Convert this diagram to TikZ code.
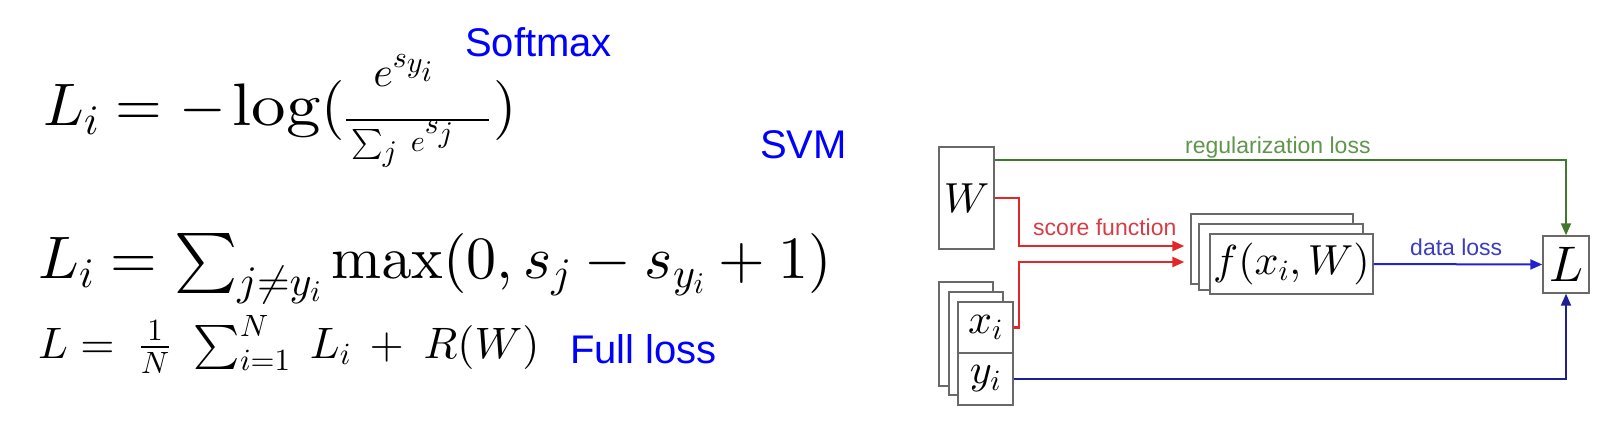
\documentclass[tikz,border=0pt]{standalone}
\usepackage[no-math]{fontspec}
\DeclareFontShape{OT1}{cmr}{m}{n}{<->cmr10}{}
\DeclareFontShape{OML}{cmm}{m}{it}{<->cmmi10}{}
\DeclareFontShape{OMS}{cmsy}{m}{n}{<->cmsy10}{}
\DeclareFontShape{OMX}{cmex}{m}{n}{<->cmex10}{}
\newfontfamily\arial{Liberation Sans}
\usetikzlibrary{arrows.meta}
\definecolor{eqblue}{RGB}{0,0,255}
\definecolor{boxgray}{RGB}{105,105,105}
\definecolor{lgreen}{RGB}{65,120,45}
\definecolor{tgreen}{RGB}{95,150,75}
\definecolor{lred}{RGB}{228,38,38}
\definecolor{tred}{RGB}{215,60,70}
\definecolor{lblue}{RGB}{35,35,205}
\definecolor{tblue}{RGB}{60,60,190}
\definecolor{dblue}{RGB}{30,30,150}
\tikzset{
  eqtext/.style={inner sep=0pt, anchor=base west},
  biglabel/.style={inner sep=0pt, anchor=base west, text=eqblue, font=\arial\fontsize{40}{48}\selectfont},
  smalllabel/.style={inner sep=0pt, anchor=base west, font=\arial\fontsize{23}{27}\selectfont},
  box/.style={draw=boxgray, line width=1.4pt, fill=white, inner sep=0pt, rectangle},
  tipstyle/.style={-{Triangle[length=12pt,width=10pt]}},
}
\begin{document}
\begin{tikzpicture}[x=1pt,y=-1pt]
\useasboundingbox (0,0) rectangle (1616,434);
% ---------- equations ----------
\node[eqtext] (eqone) at (43,125) {\fontsize{60}{72}\selectfont
 $L_i = -\hspace{-3pt}\mathop{\scalebox{1.15}[1]{$\mathrm{log}$}}(\hspace{0pt}\raisebox{-10pt}{$\frac{\raisebox{25pt}[0pt][0pt]{\makebox[143pt][l]{\hspace{27pt}$\scriptstyle e^{s_{y_i}}$}}}{\raisebox{4pt}[0pt][0pt]{\makebox[143pt][l]{\hspace{5pt}$\scriptscriptstyle \sum_j\; e^{s_j}$}}}$}\hspace{3pt})$};
\node[eqtext] (eqtwo) at (38,278) {\fontsize{60}{72}\selectfont
 $L_i = \sum_{j\neq y_i} \max(0, s_j - s_{y_i} + 1)$};
\node[eqtext] (eqthree) at (38,358) {\fontsize{44}{52}\selectfont
 $L = \hspace{13pt}\frac{1}{N}\hspace{16pt}\sum_{i=1}^{N}\hspace{12pt} L_i \hspace{9pt}+\hspace{10pt} R(W)$};
\node[biglabel] (softmax) at (465,56) {Softmax};
\node[biglabel] (svm) at (760,158) {SVM};
\node[biglabel] (fullloss) at (570,363) {Full loss};
% ---------- diagram ----------
\node[box, minimum width=55pt, minimum height=102pt] (W) at (966.5,198) {\fontsize{42}{50}\selectfont $W$};
\node[box, minimum width=162pt, minimum height=70pt] (fback) at (1272,249) {};
\node[box, minimum width=164pt, minimum height=66pt] (fmid) at (1281,257) {};
\node[box, minimum width=163pt, minimum height=60pt] (ffront) at (1291.5,264) {\fontsize{42}{50}\selectfont $f(x_i,W)$};
\node[box, minimum width=54pt, minimum height=104pt] (xyback) at (966,334) {};
\node[box, minimum width=54pt, minimum height=103pt] (xymid) at (976,343.5) {};
\node[box, minimum width=55pt, minimum height=51pt] (xi) at (985.5,327.5) {\fontsize{42}{50}\selectfont $x_i$};
\node[box, minimum width=55pt, minimum height=52pt] (yi) at (985.5,379) {\fontsize{42}{50}\selectfont $y_i$};
\node[box, minimum width=46pt, minimum height=57pt] (L) at (1566,264.5) {\fontsize{50}{60}\selectfont $L$};
\coordinate (rone) at (1019,246);
\coordinate (rtwo) at (1019,262);
% connectors
\draw[lgreen, line width=2pt, tipstyle] ([yshift=-14pt]W.north east) -| (L.north);
\draw[lred, line width=2.3pt, tipstyle, shorten >=6pt] (W.east) -| (rone) -- (rone -| fback.west);
\draw[lred, line width=2.3pt, tipstyle, shorten >=6pt] (xi.east) -| (rtwo) -- (rtwo -| fback.west);
\draw[lblue, line width=2pt, tipstyle] (ffront.east) -- (L.west);
\draw[dblue, line width=2pt, tipstyle] (yi.east) -| (L.south);
% labels
\node[smalllabel, text=tgreen] (reglabel) at (1185,153) {regularization loss};
\node[smalllabel, text=tred] (scorelabel) at (1033,235) {score function};
\node[smalllabel, text=tblue] (datalabel) at (1410,255) {data loss};
\end{tikzpicture}
\end{document}
